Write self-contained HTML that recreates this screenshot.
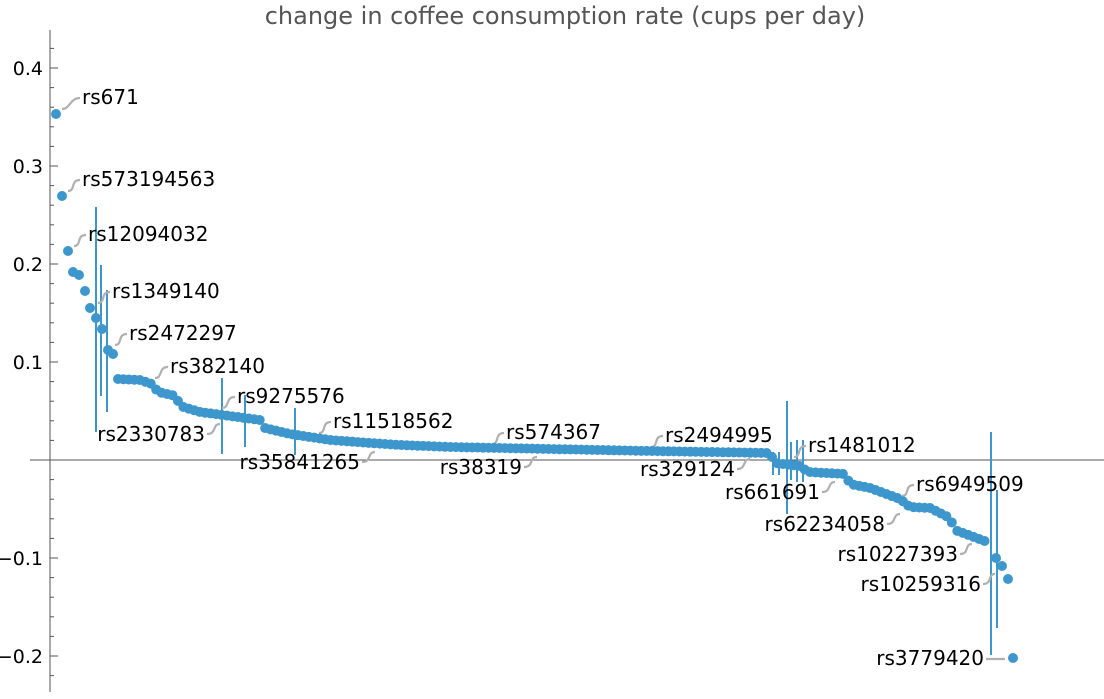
<!DOCTYPE html>
<html><head><meta charset="utf-8"><style>
body{margin:0;background:#fff;width:1104px;height:694px;overflow:hidden}
svg{font-family:"DejaVu Sans","Liberation Sans",sans-serif}
</style></head><body>
<svg id="s" width="1104" height="694" xmlns="http://www.w3.org/2000/svg">
<text x="565" y="24" font-size="24" fill="#555" text-anchor="middle">change in coffee consumption rate (cups per day)</text>
<g id="ax" stroke="#555" stroke-width="1"></g>
<g id="er" stroke="#3e97cc" stroke-width="2"></g>
<g id="ld" stroke="#b0b0b0" stroke-width="2.2" fill="none"></g>
<g id="pt" fill="#3e97cc"></g>
<g id="tx" font-size="20" fill="#000"></g>
</svg>
<script>
const NS="http://www.w3.org/2000/svg";
function el(g,t,a,txt){const e=document.createElementNS(NS,t);for(const k in a)e.setAttribute(k,a[k]);if(txt)e.textContent=txt;document.getElementById(g).appendChild(e);}
el('ax','line',{x1:50,y1:30,x2:50,y2:692});
el('ax','line',{x1:30,y1:460,x2:1104,y2:460});
for(let i=-12;i<=21;i++){const y=460-i*19.6;if(y<30||y>692)continue;const maj=i%5==0;
 el('ax','line',{x1:50,y1:y,x2:maj?58:54,y2:y});
 if(maj&&i!=0){el('tx','text',{x:43,y:y+7,'text-anchor':'end','font-size':19},(i<0?'−':'')+Math.abs(i/50).toFixed(1));}}
const ind=[[56,114],[62,196],[68,251],[73,272],[79,275],[85,291],[90,308],[96,318],[102,329],[108,350],[113,354]];
const kp=[[118,379],[140,380],[152,384],[158,392],[176,396],[180,406],[200,412],[230,416],[260,420],[265,428],[290,434],[330,440],[370,443],[400,445],[450,447],[550,449],[650,451],[770,453],[775,463],[800,466],[808,472],[845,474],[850,484],[870,488],[900,499],[910,507],[930,508],[950,518],[955,530],[990,543]];
function yAt(x){for(let i=0;i<kp.length-1;i++){if(x>=kp[i][0]&&x<=kp[i+1][0]){const t=(x-kp[i][0])/(kp[i+1][0]-kp[i][0]);return kp[i][1]+t*(kp[i+1][1]-kp[i][1]);}}return kp[kp.length-1][1];}
[[96,207,432],[101,265,396],[107,290,412],[222,378,454],[245,395,447],[295,408,455],[787,401,514],[773,452,475],[779,452,475],[791,442,480],[797,440,482],[803,440,482],[991,432,655],[997,490,628]].forEach(e=>el('er','line',{x1:e[0],y1:e[1],x2:e[0],y2:e[2]}));
ind.forEach(p=>el('pt','circle',{cx:p[0],cy:p[1],r:5}));
for(let x=118;x<=990;x+=5.45)el('pt','circle',{cx:x,cy:yAt(x),r:5});
[[996,558],[1002,566],[1008,579],[1013,658]].forEach(p=>el('pt','circle',{cx:p[0],cy:p[1],r:5}));
[["rs671",82,104,62],["rs573194563",82,186,68],["rs12094032",88,241,74],["rs1349140",112,298,98],["rs2472297",129,340,115],["rs382140",170,373,155],["rs9275576",237,403,222],["rs11518562",333,428,319],["rs574367",506,439,492],["rs2494995",665,442,651],["rs1481012",808,452,794],["rs6949509",916,491,902]].forEach(l=>{
 const x0=l[3],y0=l[2]+5,x1=l[1]-2,y1=l[2]-6;
 el('ld','path',{d:`M${x0} ${y0} C${x0+8} ${y0} ${x1-10} ${y1} ${x1} ${y1}`});
 el('tx','text',{x:l[1],y:l[2]},l[0]);});
[["rs2330783",205,441,220],["rs35841265",360,469,375],["rs38319",522,474,537],["rs329124",735,476,750],["rs661691",820,499,835],["rs62234058",885,531,900],["rs10227393",958,561,972],["rs10259316",981,591,995]].forEach(l=>{
 const x0=l[1]+2,y0=l[2]-7,x1=l[3],y1=l[2]-17;
 el('ld','path',{d:`M${x0} ${y0} C${x0+10} ${y0} ${x1-8} ${y1} ${x1} ${y1}`});
 el('tx','text',{x:l[1],y:l[2],'text-anchor':'end'},l[0]);});
el('ld','line',{x1:986,y1:659,x2:1005,y2:659});
el('tx','text',{x:984,y:665,'text-anchor':'end'},"rs3779420");
</script>
</body></html>
